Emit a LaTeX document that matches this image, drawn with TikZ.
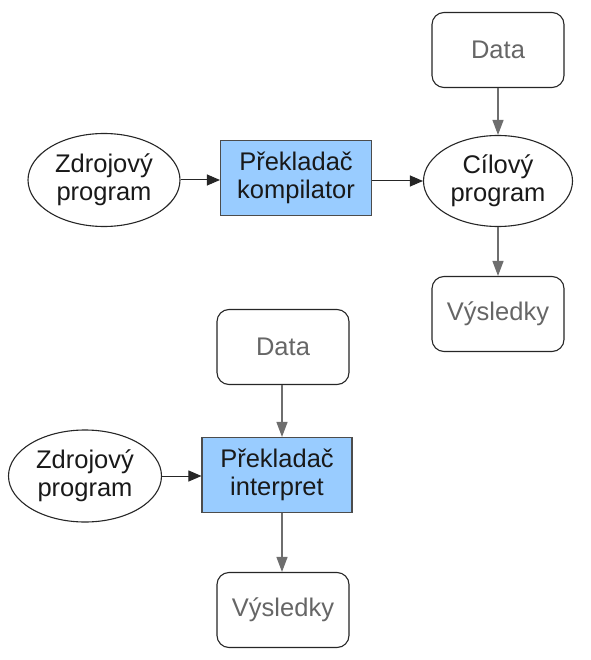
\documentclass[tikz,border=0pt]{standalone}
\usepackage{fontspec}
\setmainfont{Liberation Sans}
\usetikzlibrary{arrows.meta,shapes.geometric}
\definecolor{boxblue}{HTML}{99CCFF}
\definecolor{edgegray}{HTML}{6E6E6E}
\tikzset{
  srcellipse/.style={ellipse, draw=black!85, line width=1.1, fill=white, minimum width=152, minimum height=93, inner sep=0, align=center, text=black!90},
  transbox/.style={rectangle, draw=black!70, line width=1.1, fill=boxblue, minimum width=151, minimum height=75, inner sep=0, align=center, text=black!90},
  databox/.style={rectangle, rounded corners=12, draw=black!85, line width=1.1, fill=white, minimum width=132, minimum height=75, inner sep=0, align=center, text=black!60},
  flowarrow/.style={-{Triangle[length=13, width=11]}, black!85, line width=1},
  dataarrow/.style={-{Triangle[length=15, width=11]}, edgegray, line width=1.3}
}
\begin{document}
\begin{tikzpicture}[x=1pt, y=-1pt, font=\fontsize{25.5}{28}\selectfont]
			%%%%% START %%%%%
			\useasboundingbox (0, 0) rectangle (590, 660);
			
			% kompilator
			\node[srcellipse] (src1) at (104, 180) {Zdrojový\\program};
			\node[transbox] (comp) at (296, 178) {Překladač\\kompilator};
			\node[srcellipse, minimum width=149, minimum height=91] (target) at (498, 181) {Cílový\\program};
			\node[databox] (data1) at (498, 50) {Data};
			\node[databox] (res1) at (498, 314) {Výsledky};
			
			\draw[flowarrow] (src1) -- (comp.west |- src1);
			\draw[flowarrow] (comp.east |- target) -- (target);
			\draw[dataarrow] (data1) -- (target);
			\draw[dataarrow] (target) -- (res1);
			
			% interpret
			\node[srcellipse, minimum width=153, minimum height=92] (src2) at (85, 476) {Zdrojový\\program};
			\node[transbox, minimum width=150] (interp) at (277, 475) {Překladač\\interpret};
			\node[databox] (data2) at (283, 347) {Data};
			\node[databox] (res2) at (283, 610) {Výsledky};
			
			\draw[flowarrow] (src2) -- (interp.west |- src2);
			\draw[dataarrow] (data2.south -| 282, 0) -- (interp.north -| 282, 0);
			\draw[dataarrow] (interp.south -| 282, 0) -- (res2.north -| 282, 0);
			
			%%%%% END %%%%%
		\end{tikzpicture}
\end{document}
